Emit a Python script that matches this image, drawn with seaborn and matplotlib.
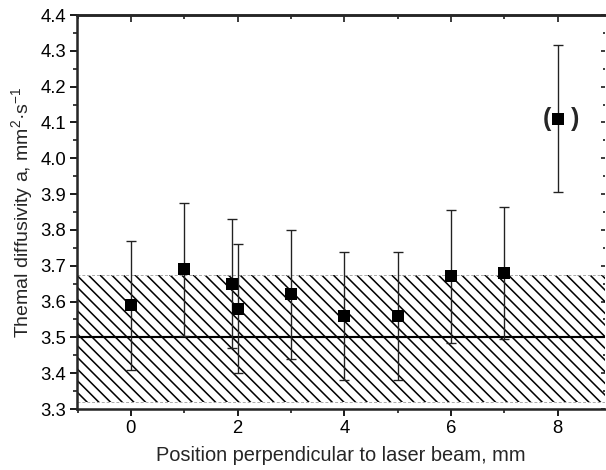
import matplotlib
matplotlib.use("Agg")
import matplotlib.pyplot as plt
import seaborn as sns
import numpy as np
import pandas as pd
from matplotlib.ticker import MultipleLocator

# ---- data ----
positions = [0, 1, 1.9, 2, 3, 4, 5, 6, 7, 8]
diffusivity = [3.59, 3.69, 3.65, 3.58, 3.62, 3.56, 3.56, 3.67, 3.68, 4.11]
errors = [0.18, 0.185, 0.18, 0.18, 0.18, 0.178, 0.178, 0.185, 0.185, 0.205]
mean_value = 3.50
band_low = 3.32
band_high = 3.675
x_ticks = [0, 2, 4, 6, 8]
y_ticks = [3.3, 3.4, 3.5, 3.6, 3.7, 3.8, 3.9, 4.0, 4.1, 4.2, 4.3, 4.4]
xlabel = "Position perpendicular to laser beam, mm"
ylabel = "Themal diffusivity a, mm$^{2}$·s$^{-1}$"

df = pd.DataFrame({"pos": positions, "a": diffusivity, "err": errors})

sns.set_style("ticks")
plt.rcParams["font.family"] = ["Liberation Sans", "DejaVu Sans"]
plt.rcParams["mathtext.fontset"] = "custom"
plt.rcParams["mathtext.rm"] = "Liberation Sans"
plt.rcParams["mathtext.default"] = "regular"
plt.rcParams["hatch.linewidth"] = 0.8

DPI = 140
fig = plt.figure(figsize=(606 / DPI, 470 / DPI), dpi=DPI)
ax = fig.add_axes([77 / 606, 1 - 409 / 470, 1 - 77 / 606 - 0.002, (409 - 15) / 470])

# hatched band
ax.axhspan(band_low, band_high, facecolor="none", edgecolor="black",
           hatch="\\\\\\\\", linewidth=0, zorder=1)
for yv in (band_low, band_high):
    ax.axhline(yv, color="#aaaaaa", linestyle=(0, (3, 2)), linewidth=0.5, zorder=1.5)
ax.axhline(mean_value, color="black", linewidth=1.1, zorder=2)

# error bars
ax.errorbar(df["pos"], df["a"], yerr=df["err"], fmt="none", ecolor="#222222",
            elinewidth=0.7, capsize=2.7, capthick=0.7, zorder=3)
sns.scatterplot(data=df, x="pos", y="a", marker="s", s=40, color="black",
                edgecolor="black", linewidth=0, ax=ax, zorder=4, legend=False)

# parentheses around the outlier
ax.annotate("(", xy=(positions[-1], diffusivity[-1]), xytext=(-5.5, 0),
            textcoords="offset points", ha="center", va="center",
            fontsize=13, fontweight="bold")
ax.annotate(")", xy=(positions[-1], diffusivity[-1]), xytext=(9, 0),
            textcoords="offset points", ha="center", va="center",
            fontsize=13, fontweight="bold")

ax.set_xlim(-1.01, 8.88)
ax.set_ylim(3.3, 4.4)
ax.set_xticks(x_ticks)
ax.set_yticks(y_ticks)
ax.set_yticklabels([f"{v:.1f}" for v in y_ticks])
ax.xaxis.set_minor_locator(MultipleLocator(1))
ax.yaxis.set_minor_locator(MultipleLocator(0.05))
ax.tick_params(which="major", direction="out", length=3.5, width=0.9,
               labelsize=9.5, pad=2, colors="black")
ax.tick_params(which="minor", direction="out", length=2, width=0.9)

for sp in ax.spines.values():
    sp.set_linewidth(1.3)
ax.spines["right"].set_visible(False)

sec_x = ax.secondary_xaxis("top")
sec_x.set_xticks(x_ticks)
sec_x.xaxis.set_minor_locator(MultipleLocator(1))
sec_x.tick_params(which="major", direction="in", length=3.5, width=0.9, labeltop=False)
sec_x.tick_params(which="minor", direction="in", length=2, width=0.9)
sec_x.spines["top"].set_linewidth(1.3)

sec_y = ax.secondary_yaxis("right")
sec_y.set_yticks(y_ticks)
sec_y.yaxis.set_minor_locator(MultipleLocator(0.05))
sec_y.tick_params(which="major", direction="in", length=2, width=0.9, labelright=False)
sec_y.tick_params(which="minor", direction="in", length=1.2, width=0.9)
sec_y.spines["right"].set_visible(False)

ax.set_xlabel(xlabel, fontsize=10.3, labelpad=5)
ax.set_ylabel(ylabel, fontsize=10, labelpad=3)

fig.savefig("out.png", dpi=DPI)
